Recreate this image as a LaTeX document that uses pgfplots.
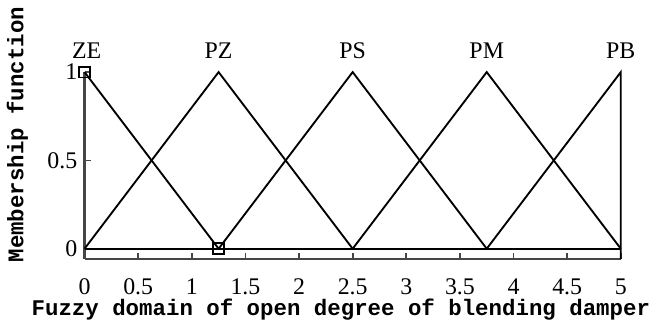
\documentclass[border=0pt]{standalone}
\usepackage{fontspec}
\setmainfont{Liberation Serif}
\setmonofont{Liberation Mono}
\usepackage{pgfplots}
\pgfplotsset{compat=1.18}
\begin{document}
\begin{tikzpicture}
\begin{axis}[
  scale only axis,
  width=258.5pt, height=90pt,
  xmin=0, xmax=5, ymin=-0.057, ymax=1,
  axis lines*=left,
  axis line style={-, line width=1.2pt, gray!55!black},
  xtick={0,0.5,...,5}, ytick={0,0.5,1},
  xticklabels={0,0.5,1,1.5,2,2.5,3,3.5,4,4.5,5},
  yticklabels={0,0.5,1},
  tick align=inside,
  major tick length=3pt,
  tick style={line width=0.8pt, gray!55!black},
  tick label style={font=\fontsize{11.5}{12}\selectfont},
  /pgf/number format/assume math mode=true,
  xticklabel style={yshift=-6pt},
  clip=false,
  xlabel={\ttfamily\bfseries Fuzzy domain of open degree of blending damper},
  ylabel={\ttfamily\bfseries Membership function},
  label style={font=\fontsize{10.8}{12}\selectfont},
  xlabel style={at={(axis description cs:0.478,0)}, anchor=north, yshift=-16pt},
  ylabel style={at={(axis description cs:-0.125,0.665)}, anchor=center, rotate=0},
]
% zero baseline of the membership functions
\addplot[black, line width=0.9pt] coordinates {(0,0) (5,0)};
% ZE
\addplot[black, line width=0.9pt] coordinates {(0,1) (1.25,0)};
% PZ
\addplot[black, line width=0.9pt] coordinates {(0,0) (1.25,1) (2.5,0)};
% PS
\addplot[black, line width=0.9pt] coordinates {(1.25,0) (2.5,1) (3.75,0)};
% PM
\addplot[black, line width=0.9pt] coordinates {(2.5,0) (3.75,1) (5,0)};
% PB
\addplot[black, line width=0.9pt] coordinates {(3.75,0) (5,1) (5,-0.057)};
% open square markers
\addplot[only marks, mark=square, mark size=2.6pt, mark options={black, line width=0.8pt, fill=white}] coordinates {(0,1) (1.25,0)};
% fuzzy set names
\node[font=\fontsize{11.5}{12}\selectfont] at (axis cs:0.02,1.12) {ZE};
\node[font=\fontsize{11.5}{12}\selectfont] at (axis cs:1.25,1.12) {PZ};
\node[font=\fontsize{11.5}{12}\selectfont] at (axis cs:2.5,1.12) {PS};
\node[font=\fontsize{11.5}{12}\selectfont] at (axis cs:3.75,1.12) {PM};
\node[font=\fontsize{11.5}{12}\selectfont] at (axis cs:5,1.12) {PB};
\end{axis}
\end{tikzpicture}
\end{document}
